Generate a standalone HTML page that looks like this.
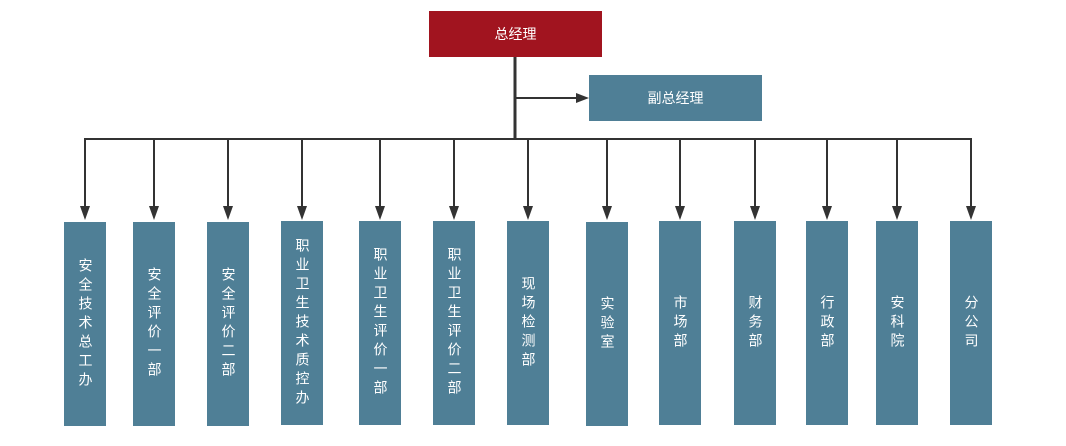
<!DOCTYPE html>
<html><head><meta charset="utf-8"><style>
body{margin:0;background:#fff;width:1066px;height:446px;overflow:hidden;position:relative;font-family:"Liberation Sans","Noto Sans CJK SC",sans-serif}
.b{position:absolute;background:#4f7f96;color:#fff;display:flex;align-items:center;justify-content:center}
.v{width:42px;font-size:14px;line-height:19px;text-align:center;writing-mode:vertical-rl;letter-spacing:5px}
</style></head><body>
<svg width="1066" height="446" style="position:absolute;left:0;top:0">
<g stroke="#333" fill="none">
<line x1="515" y1="57" x2="515" y2="140" stroke-width="3"/>
<line x1="515" y1="98" x2="576" y2="98" stroke-width="2"/>
<line x1="84" y1="139" x2="972" y2="139" stroke-width="2"/>
</g>
<polygon points="576,93 589,98 576,103" fill="#333"/>
<g stroke="#333" stroke-width="2" id="arr"></g>
<g fill="#333">
<script>
</script>
</g>
<g stroke="#333" stroke-width="2">
<line x1="85" y1="139" x2="85" y2="208"/><line x1="154" y1="139" x2="154" y2="208"/><line x1="228" y1="139" x2="228" y2="208"/><line x1="302" y1="139" x2="302" y2="208"/><line x1="380" y1="139" x2="380" y2="208"/><line x1="454" y1="139" x2="454" y2="208"/><line x1="528" y1="139" x2="528" y2="208"/><line x1="607" y1="139" x2="607" y2="208"/><line x1="680" y1="139" x2="680" y2="208"/><line x1="755" y1="139" x2="755" y2="208"/><line x1="827" y1="139" x2="827" y2="208"/><line x1="897" y1="139" x2="897" y2="208"/><line x1="971" y1="139" x2="971" y2="208"/>
</g>
<g fill="#333">
<polygon points="80,206 90,206 85,220"/><polygon points="149,206 159,206 154,220"/><polygon points="223,206 233,206 228,220"/><polygon points="297,206 307,206 302,220"/><polygon points="375,206 385,206 380,220"/><polygon points="449,206 459,206 454,220"/><polygon points="523,206 533,206 528,220"/><polygon points="602,206 612,206 607,220"/><polygon points="675,206 685,206 680,220"/><polygon points="750,206 760,206 755,220"/><polygon points="822,206 832,206 827,220"/><polygon points="892,206 902,206 897,220"/><polygon points="966,206 976,206 971,220"/>
</g>
</svg>
<div class="b" style="left:429px;top:11px;width:173px;height:46px;background:#a1141f;font-size:14px">总经理</div>
<div class="b" style="left:589px;top:75px;width:173px;height:46px;font-size:14px">副总经理</div>
<div class="b v" style="left:64px;top:222px;height:204px">安全技术总工办</div>
<div class="b v" style="left:133px;top:222px;height:204px">安全评价一部</div>
<div class="b v" style="left:207px;top:222px;height:204px">安全评价二部</div>
<div class="b v" style="left:281px;top:221px;height:204px">职业卫生技术质控办</div>
<div class="b v" style="left:359px;top:221px;height:204px">职业卫生评价一部</div>
<div class="b v" style="left:433px;top:221px;height:204px">职业卫生评价二部</div>
<div class="b v" style="left:507px;top:221px;height:204px">现场检测部</div>
<div class="b v" style="left:586px;top:222px;height:204px">实验室</div>
<div class="b v" style="left:659px;top:221px;height:204px">市场部</div>
<div class="b v" style="left:734px;top:221px;height:204px">财务部</div>
<div class="b v" style="left:806px;top:221px;height:204px">行政部</div>
<div class="b v" style="left:876px;top:221px;height:204px">安科院</div>
<div class="b v" style="left:950px;top:221px;height:204px">分公司</div>
</body></html>
